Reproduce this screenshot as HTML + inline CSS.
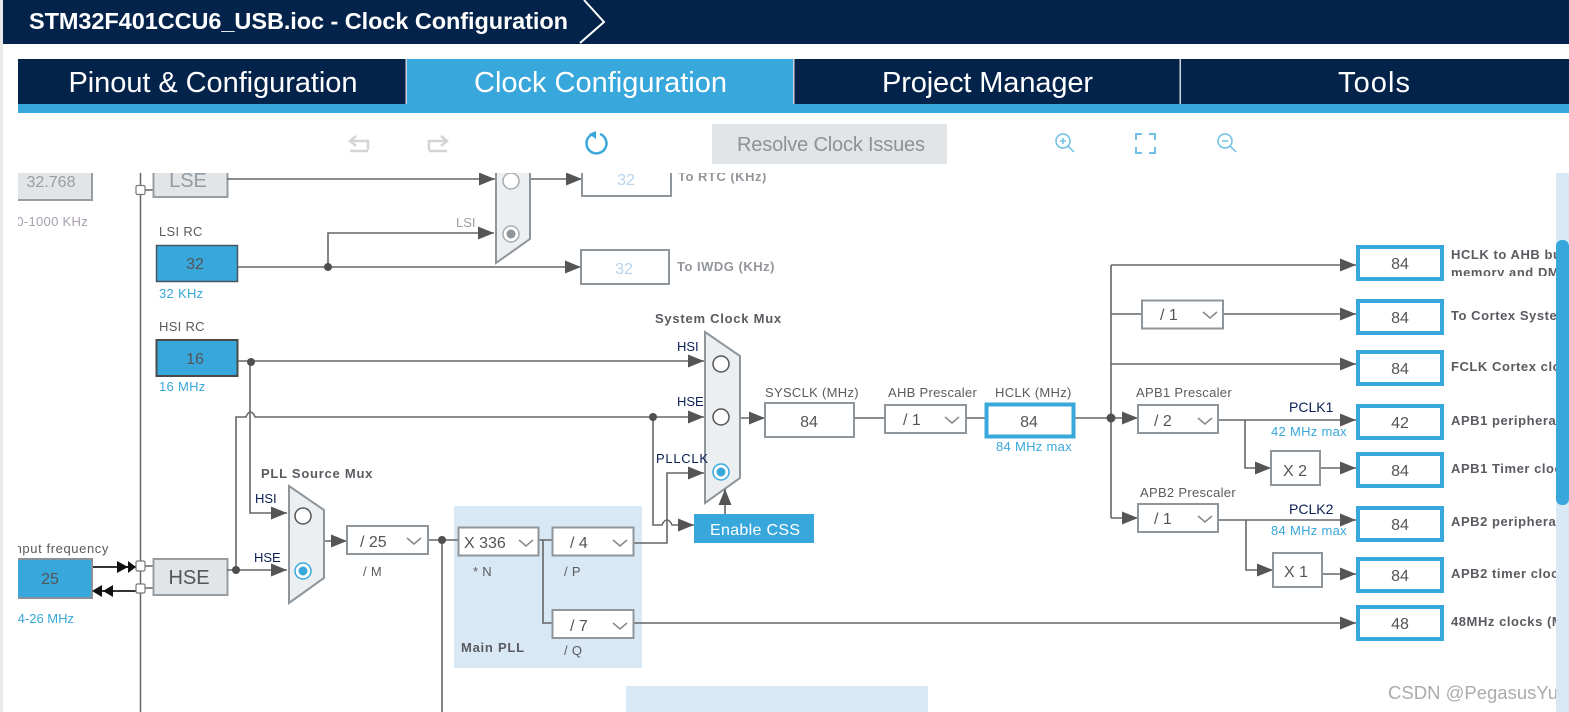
<!DOCTYPE html>
<html><head><meta charset="utf-8"><title>Clock Configuration</title>
<style>
html,body{margin:0;padding:0;background:#fff;width:1569px;height:712px;overflow:hidden}
svg{display:block}
text{font-family:"Liberation Sans",Arial,sans-serif;fill:#555}
.l{fill:none;stroke:#666;stroke-width:1.6}
.a{fill:none;stroke:#666;stroke-width:1.6;marker-end:url(#arr)}
.b{fill:#fff;stroke:#8f969b;stroke-width:2}
.o{fill:#fff;stroke:#38a7db;stroke-width:4}
.g{fill:#e2e5e8;stroke:#979da1;stroke-width:2}
.m{fill:#ebeff2;stroke:#8f969b;stroke-width:2}
.c{fill:none;stroke:#888;stroke-width:1.5}
.n{font-size:16px;text-anchor:middle}
.s{font-size:16px}
.t{font-size:13px;fill:#5b5b5f;letter-spacing:.3px}
.h{font-size:13px;font-weight:bold;letter-spacing:.75px;fill:#5a5a60}
.u{font-size:13px;fill:#38a7db;letter-spacing:.3px}
.k{font-size:13px;fill:#0a1f55}
.r{font-size:13px;font-weight:bold;letter-spacing:.55px;fill:#5a5a60}
.tab{font-size:29px;fill:#fff;text-anchor:middle}
</style></head><body>
<svg width="1569" height="712" viewBox="0 0 1569 712" xmlns="http://www.w3.org/2000/svg">
<defs>
<marker id="arr" markerUnits="userSpaceOnUse" markerWidth="17" markerHeight="14" refX="16" refY="7" orient="auto"><path d="M0 0.500L16 7L0 13.500Z" fill="#555"/></marker>
<clipPath id="dg"><rect x="18" y="173" width="1538" height="539"/></clipPath>
<clipPath id="hc"><rect x="1440" y="240" width="116" height="36"/></clipPath>
</defs>

<!-- chrome -->
<rect x="0" y="0" width="3" height="712" fill="#e9e9e9"/>
<rect x="3" y="0" width="1566" height="44" fill="#03234b"/>
<text x="29" y="29" font-size="23.500" font-weight="bold" style="fill:#fff" textLength="539">STM32F401CCU6_USB.ioc - Clock Configuration</text>
<path d="M584 0L604 22L580 43" fill="none" stroke="#fff" stroke-width="2"/>
<rect x="18" y="59" width="1551" height="45" fill="#03234b"/>
<rect x="18" y="104" width="1551" height="9" fill="#38a7db"/>
<rect x="407" y="59" width="386" height="45" fill="#38a7db"/>
<rect x="405.500" y="59" width="1.500" height="45" fill="#cfd6dc"/>
<rect x="793" y="59" width="1.500" height="45" fill="#cfd6dc"/>
<rect x="1179.500" y="59" width="1.500" height="45" fill="#cfd6dc"/>
<text class="tab" x="213" y="92" textLength="289">Pinout &amp; Configuration</text>
<text class="tab" x="600.500" y="92" textLength="253">Clock Configuration</text>
<text class="tab" x="987.500" y="92" textLength="211">Project Manager</text>
<text class="tab" x="1374" y="92" textLength="72">Tools</text>

<!-- toolbar -->
<g fill="none" stroke="#d2d4d6" stroke-width="2.500">
<path d="M368 150V141H351M356 136L350 141L356 146M350 151H368"/>
<path d="M429 150V141H446M441 136L447 141L441 146M429 151H447"/>
</g>
<path d="M591 135A10 10 0 1 0 600 134" fill="none" stroke="#38a7db" stroke-width="2.500"/>
<path d="M596 131L596 139L589 134Z" fill="#38a7db"/>
<rect x="712" y="124" width="235" height="40" fill="#e2e5e8"/>
<text x="737" y="151" font-size="20" style="fill:#8d9297" textLength="188">Resolve Clock Issues</text>
<g fill="none" stroke="#6fbfe6" stroke-width="1.500">
<circle cx="1063" cy="141" r="7"/><path d="M1068 146L1074 152M1060 141H1066M1063 138V144"/>
<path d="M1136 140V134H1142M1149 134H1155V140M1155 147V153H1149M1142 153H1136V147" stroke-width="2"/>
<circle cx="1225" cy="141" r="7"/><path d="M1230 146L1236 152M1222 141H1228"/>
</g>

<!-- scrollbar -->
<rect x="1556" y="173" width="13" height="539" fill="#d9e8f5"/>
<rect x="1556" y="240" width="13" height="265" rx="6" fill="#38a7db"/>

<!-- PLL backgrounds -->
<rect x="454" y="506" width="188" height="162" rx="1" fill="#d9e8f5"/>
<rect x="626" y="686" width="302" height="26" fill="#d9e8f5"/>

<g clip-path="url(#dg)">
<!-- left column -->
<rect x="10" y="160" width="82" height="40" class="g"/>
<text class="n" x="51" y="187" style="fill:#9a9ea2">32.768</text>
<text x="88" y="226" font-size="13" text-anchor="end" style="fill:#a79fae" letter-spacing=".3">10-1000 KHz</text>
<path d="M140.500 173V712" fill="none" stroke="#666" stroke-width="1.500"/>
<path d="M145 190H153M145 566H153M145 588H153" class="l"/>
<rect x="153.500" y="160" width="74" height="37" class="g"/>
<text x="188" y="187" font-size="20" text-anchor="middle" style="fill:#949a9e">LSE</text>

<text class="t" x="159" y="236">LSI RC</text>
<rect x="156.500" y="245.500" width="81" height="36" fill="#38a7db" stroke="#4a5560" stroke-width="1.500"/>
<text class="n" x="195" y="269">32</text>
<text class="u" x="159" y="298">32 KHz</text>
<text class="t" x="159" y="331">HSI RC</text>
<rect x="156.500" y="340" width="81" height="36" fill="#38a7db" stroke="#4a4a4a" stroke-width="2"/>
<text class="n" x="195" y="364">16</text>
<text class="u" x="159" y="391">16 MHz</text>

<text x="109" y="553" font-size="13" text-anchor="end" letter-spacing=".6" style="fill:#5b5b5f">Input frequency</text>
<rect x="10" y="559" width="82" height="39" fill="#38a7db" stroke="#8a9298" stroke-width="2"/>
<text class="n" x="50" y="584">25</text>
<text x="74" y="623" font-size="13" text-anchor="end" style="fill:#38a7db">14-26 MHz</text>
<path d="M93 567H136M136 591H95" stroke="#333" stroke-width="2" fill="none"/>
<path d="M117 561L128 567L117 573ZM128 561L136 567L128 573ZM102 585L92 591L102 597ZM113 585L103 591L113 597Z" fill="#111"/>
<rect x="136" y="561" width="9" height="10" rx="1.500" fill="#fff" stroke="#777" stroke-width="1.200"/>
<rect x="136" y="584" width="9" height="9" rx="1.500" fill="#fff" stroke="#777" stroke-width="1.200"/>
<rect x="136" y="185.500" width="9" height="9" rx="1.500" fill="#fff" stroke="#777" stroke-width="1.200"/>
<rect x="153.500" y="559" width="74" height="36" class="g"/>
<text x="189" y="584" font-size="20" text-anchor="middle">HSE</text>

<!-- connectors -->
<path class="a" d="M227 179H495"/>
<path class="a" d="M328 267V233H494"/>
<path class="a" d="M238 267H581"/>
<path class="a" d="M530 179H582"/>
<path class="a" d="M238 361H704"/>
<path class="a" d="M250 361V513H287"/>
<path class="a" d="M236 570V417H246Q248 412 250.500 412Q253 412 255 417H704"/>
<path class="a" d="M227 570H287"/>
<path class="a" d="M653 417V525H662Q664 520 667 520Q670 520 672 525H694"/>
<path class="a" d="M634 543H667V473H704"/>
<path class="a" d="M324 541H347"/>
<path class="l" d="M428 540H458M442 540V712"/>
<path class="l" d="M539 540H552M543 540V623H552"/>
<path class="a" d="M634 623H1356"/>
<path class="a" d="M740 418H765"/>
<path class="l" d="M854 418H885M966 418H985"/>
<path class="a" d="M1074 418H1138"/>
<path class="l" d="M1111 265V518M1111 314H1142"/>
<path class="a" d="M1111 265H1356"/>
<path class="a" d="M1223 314H1356"/>
<path class="a" d="M1111 364H1356"/>
<path class="a" d="M1111 518H1138"/>
<path class="a" d="M1218 420H1356"/>
<path class="a" d="M1245 420V468H1271"/>
<path class="a" d="M1320 468H1356"/>
<path class="a" d="M1218 520H1356"/>
<path class="a" d="M1246 520V570H1273"/>
<path class="a" d="M1323 574H1356"/>
<g fill="#4f4f4f">
<circle cx="328" cy="267" r="4"/><circle cx="251" cy="362" r="4"/><circle cx="236" cy="570" r="4"/>
<circle cx="653" cy="417" r="4"/><circle cx="442" cy="540" r="4"/><circle cx="1111" cy="418" r="4.500"/>
</g>

<!-- RTC mux -->
<path class="m" d="M496 160V263L530 239V160Z"/>
<circle cx="511" cy="181" r="8" fill="#fff" stroke="#a8acaf" stroke-width="1.500"/>
<circle cx="511" cy="234" r="8" fill="#fff" stroke="#a8acaf" stroke-width="1.500"/>
<circle cx="511" cy="234" r="4.500" fill="#8f969b"/>
<text x="456" y="227" font-size="13" style="fill:#9b9ea2">LSI</text>
<rect x="582" y="160" width="89" height="36" fill="#fff" stroke="#8f969b" stroke-width="2"/>
<text class="n" x="626" y="185" style="fill:#b7d3ec">32</text>
<text x="678" y="181" font-size="13" font-weight="bold" letter-spacing=".5" style="fill:#93969a">To RTC (KHz)</text>
<rect x="581" y="250" width="88" height="34" fill="#fff" stroke="#8f969b" stroke-width="2"/>
<text class="n" x="624" y="274" style="fill:#b7d3ec">32</text>
<text x="677" y="271" font-size="13" font-weight="bold" letter-spacing=".5" style="fill:#93969a">To IWDG (KHz)</text>

<!-- PLL source mux -->
<text class="h" x="261" y="478">PLL Source Mux</text>
<path class="m" d="M289 486L324 510V578L289 603Z"/>
<circle cx="303" cy="516" r="8" fill="#fff" stroke="#555" stroke-width="1.500"/>
<circle cx="303" cy="571" r="8" fill="#fff" stroke="#38a7db" stroke-width="1.500"/>
<circle cx="303" cy="571" r="4.500" fill="#38a7db"/>
<text class="k" x="255" y="503">HSI</text>
<text class="k" x="254" y="562">HSE</text>
<rect class="b" x="347" y="526" width="81" height="28"/>
<text class="s" x="360" y="547">/ 25</text>
<path class="c" d="M407 538L414 544L421 538"/>
<text class="t" x="363" y="576">/ M</text>

<!-- Main PLL -->
<rect class="b" x="458.500" y="527.500" width="80" height="28" stroke-width="2.500"/>
<text class="s" x="464" y="548">X 336</text>
<path class="c" d="M519 540L526 546L533 540"/>
<text class="t" x="473" y="576">* N</text>
<rect class="b" x="552.500" y="527.500" width="81" height="28"/>
<text class="s" x="570" y="548">/ 4</text>
<path class="c" d="M613 540L620 546L627 540"/>
<text class="t" x="564" y="576">/ P</text>
<rect class="b" x="552.500" y="610" width="81" height="28"/>
<text class="s" x="570" y="631">/ 7</text>
<path class="c" d="M613 623L620 629L627 623"/>
<text class="t" x="564" y="655">/ Q</text>
<text class="h" x="461" y="652">Main PLL</text>

<!-- System clock mux -->
<text class="h" x="655" y="323">System Clock Mux</text>
<path class="m" d="M705 332L740 356V478L705 503Z"/>
<circle cx="721" cy="364" r="8" fill="#fff" stroke="#555" stroke-width="1.500"/>
<circle cx="721" cy="417" r="8" fill="#fff" stroke="#555" stroke-width="1.500"/>
<circle cx="721" cy="472" r="8" fill="#fff" stroke="#38a7db" stroke-width="1.500"/>
<circle cx="721" cy="472" r="4.500" fill="#38a7db"/>
<path class="a" d="M725 514V489"/>
<text class="k" x="677" y="351">HSI</text>
<text class="k" x="677" y="406">HSE</text>
<text class="k" x="656" y="463" textLength="52">PLLCLK</text>
<rect x="694" y="514" width="120" height="29" fill="#38a7db"/>
<text x="755" y="535" font-size="16" text-anchor="middle" style="fill:#fff" textLength="90">Enable CSS</text>

<rect class="b" x="765" y="403" width="89" height="34"/>
<text class="t" x="765" y="397">SYSCLK (MHz)</text>
<text class="n" x="809" y="427">84</text>
<text class="t" x="888" y="397">AHB Prescaler</text>
<rect class="b" x="885" y="405" width="81" height="28"/>
<text class="s" x="903" y="425">/ 1</text>
<path class="c" d="M945 417L952 423L959 417"/>
<rect class="o" x="986.500" y="404.500" width="87" height="32"/>
<text class="t" x="995" y="397">HCLK (MHz)</text>
<text class="n" x="1029" y="427">84</text>
<text class="u" x="996" y="451">84 MHz max</text>

<!-- right side -->
<rect class="b" x="1142" y="300.500" width="81" height="28"/>
<text class="s" x="1160" y="320">/ 1</text>
<path class="c" d="M1203 312L1210 318L1217 312"/>
<text class="t" x="1136" y="397">APB1 Prescaler</text>
<rect class="b" x="1138" y="405" width="80" height="28"/>
<text class="s" x="1154" y="426">/ 2</text>
<path class="c" d="M1198 418L1205 424L1212 418"/>
<text x="1289" y="412" font-size="14" style="fill:#0a1f55">PCLK1</text>
<text class="u" x="1271" y="436">42 MHz max</text>
<rect class="b" x="1271" y="451" width="49" height="34"/>
<text class="n" x="1295" y="476">X 2</text>
<text class="t" x="1140" y="497">APB2 Prescaler</text>
<rect class="b" x="1138" y="504" width="80" height="28"/>
<text class="s" x="1154" y="524">/ 1</text>
<path class="c" d="M1198 516L1205 522L1212 516"/>
<text x="1289" y="514" font-size="14" style="fill:#0a1f55">PCLK2</text>
<text class="u" x="1271" y="535">84 MHz max</text>
<rect class="b" x="1273" y="553" width="49" height="34"/>
<text class="n" x="1296" y="577">X 1</text>

<rect class="o" x="1358" y="247" width="84" height="32"/><text class="n" x="1400" y="269">84</text>
<rect class="o" x="1358" y="301" width="84" height="32"/><text class="n" x="1400" y="323">84</text>
<rect class="o" x="1358" y="352" width="84" height="32"/><text class="n" x="1400" y="374">84</text>
<rect class="o" x="1358" y="406" width="84" height="32"/><text class="n" x="1400" y="428">42</text>
<rect class="o" x="1358" y="454" width="84" height="32"/><text class="n" x="1400" y="476">84</text>
<rect class="o" x="1358" y="508" width="84" height="32"/><text class="n" x="1400" y="530">84</text>
<rect class="o" x="1358" y="559" width="84" height="32"/><text class="n" x="1400" y="581">84</text>
<rect class="o" x="1358" y="607" width="84" height="32"/><text class="n" x="1400" y="629">48</text>

<g clip-path="url(#hc)"><text class="r" x="1451" y="259">HCLK to AHB bus, Core,</text><text class="r" x="1451" y="277">memory and DMA (MHz)</text></g>
<text class="r" x="1451" y="320">To Cortex System timer (MHz)</text>
<text class="r" x="1451" y="371">FCLK Cortex clock (MHz)</text>
<text class="r" x="1451" y="425">APB1 peripheral clocks (MHz)</text>
<text class="r" x="1451" y="473">APB1 Timer clocks (MHz)</text>
<text class="r" x="1451" y="526">APB2 peripheral clocks (MHz)</text>
<text class="r" x="1451" y="578">APB2 timer clocks (MHz)</text>
<text class="r" x="1451" y="626">48MHz clocks (MHz)</text>
<text x="1388" y="699" font-size="18" style="fill:#a9abad" textLength="170" lengthAdjust="spacingAndGlyphs">CSDN @PegasusYu</text>
</g>
</svg>
</body></html>
